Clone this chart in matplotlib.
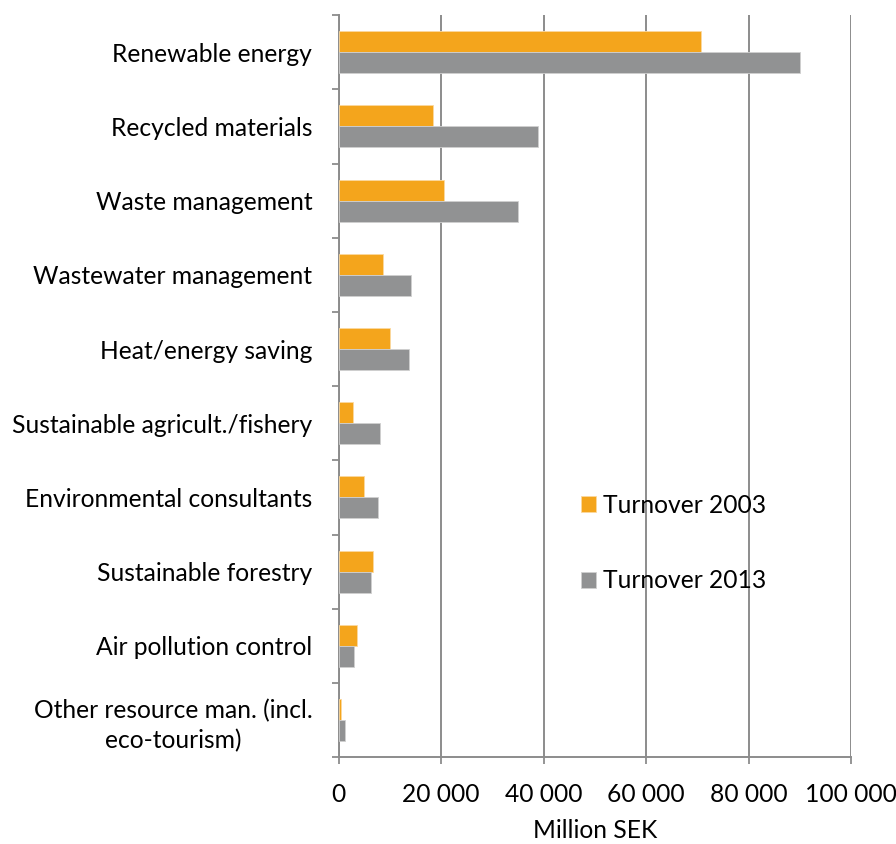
import matplotlib.pyplot as plt
import numpy as np

# Environmental goods and services sector, turnover by activity (Million SEK)
categories = [
    "Renewable energy",
    "Recycled materials",
    "Waste management",
    "Wastewater management",
    "Heat/energy saving",
    "Sustainable agricult./fishery",
    "Environmental consultants",
    "Sustainable forestry",
    "Air pollution control",
    "Other resource man. (incl.\neco-tourism)",
]
turnover_2003 = [70700, 18400, 20500, 8700, 10100, 2800, 5000, 6700, 3600, 500]
turnover_2013 = [90000, 38900, 35000, 14200, 13700, 8000, 7700, 6400, 3000, 1300]
x_ticks = [0, 20000, 40000, 60000, 80000, 100000]
x_tick_labels = ["0", "20 000", "40 000", "60 000", "80 000", "100 000"]

plt.rcParams['font.family'] = ['Lato', 'DejaVu Sans']
fs = 17.7

orange = '#F4A51C'
grey = '#919293'
axis_grey = '#8C8C8C'

fig = plt.figure(figsize=(8.96, 8.44), dpi=100)
ax = fig.add_axes([0.378, 0.103, 0.572, 0.879])

pos = np.arange(len(categories))
h = 0.283
ax.barh(pos - h / 2, turnover_2003, height=h, color=orange,
        edgecolor='#FBD9A0', linewidth=0.6, label="Turnover 2003", zorder=3)
ax.barh(pos + h / 2, turnover_2013, height=h, color=grey,
        edgecolor='#D0D0D0', linewidth=0.6, label="Turnover 2013", zorder=3)

ax.set_ylim(len(categories) - 0.5, -0.5)
ax.set_xlim(0, 100000)

# category separators as minor ticks, labels on the centres
ax.set_yticks(pos)
ax.set_yticklabels(categories, fontsize=fs, multialignment='center',
                   linespacing=1.35)
ax.set_yticks(np.arange(-0.5, len(categories)), minor=True)
ax.tick_params(axis='y', which='major', length=0, pad=19)
ax.tick_params(axis='y', which='minor', length=5, width=1.3, color=axis_grey,
               direction='out')

ax.set_xticks(x_ticks)
ax.set_xticklabels(x_tick_labels, fontsize=fs)
ax.tick_params(axis='x', length=5, width=1.3, color=axis_grey, pad=14)

ax.grid(axis='x', color=axis_grey, linewidth=1.4, zorder=0)
ax.set_axisbelow(True)
for side in ['top', 'right']:
    ax.spines[side].set_visible(False)
for side in ['left', 'bottom']:
    ax.spines[side].set_color(axis_grey)
    ax.spines[side].set_linewidth(1.4)

ax.set_xlabel("Million SEK", fontsize=fs, labelpad=9)

leg = ax.legend(loc='upper left', bbox_to_anchor=(0.43, 0.385), frameon=False,
                fontsize=fs, handlelength=0.6, handleheight=0.6,
                handletextpad=0.3, labelspacing=2.15)

plt.savefig("out.png", dpi=100)
